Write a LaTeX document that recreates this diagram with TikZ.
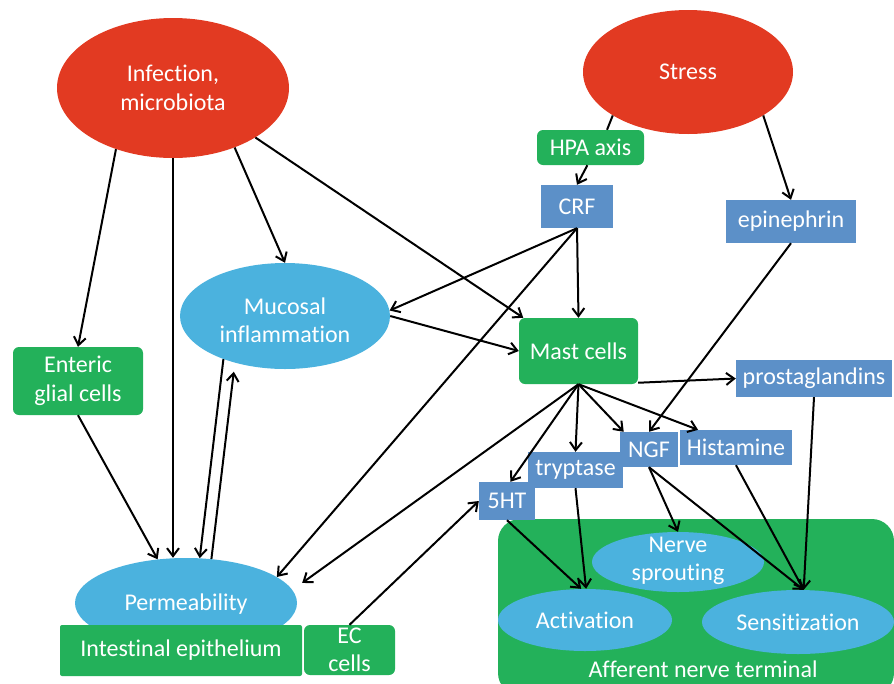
\documentclass[tikz,border=0pt]{standalone}
\usepackage{fontspec}
\setmainfont{Carlito}[Ligatures={NoCommon}]
\usetikzlibrary{arrows.meta,shapes.geometric,calc}
\definecolor{cred}{RGB}{226,58,34}
\definecolor{cell}{RGB}{75,178,222}
\definecolor{cgreen}{RGB}{35,177,90}
\definecolor{cbox}{RGB}{92,144,200}
\begin{document}
\begin{tikzpicture}[x=1pt,y=-1pt,
 every node/.style={text=white,font=\fontsize{24}{28.5}\selectfont,inner sep=0pt,align=center},
 redell/.style={ellipse,fill=cred},
 blueell/.style={ellipse,fill=cell},
 greenbox/.style={rectangle,rounded corners=6pt,fill=cgreen},
 bluebox/.style={rectangle,fill=cbox},
 arr/.style={draw=black,line width=2pt,-{Straight Barb[length=8pt,width=12pt]}},
 ln/.style={draw=black,line width=2pt}]
\useasboundingbox (0,0) rectangle (894,683);
% afferent nerve terminal
\node[greenbox,rounded corners=22pt,minimum width=396pt,minimum height=176pt] (aff) at (696,607) {};
\node[anchor=base] (afflabel) at (703,677) {Afferent nerve terminal};
% top ellipses
\node[redell,minimum width=232pt,minimum height=140pt] (inf) at (173,88) {Infection,\\microbiota};
\node[redell,minimum width=210pt,minimum height=124pt] (stress) at (688,72) {Stress};
\node[greenbox,minimum width=107pt,minimum height=35pt] (hpa) at (590.5,147.5) {HPA axis};
\node[bluebox,minimum width=72pt,minimum height=43pt] (crf) at (577,206.5) {CRF};
\node[bluebox,minimum width=130pt,minimum height=43pt] (epi) at (791,221.5) {epinephrin};
\node[blueell,minimum width=210pt,minimum height=106pt] (muc) at (285,316) {};
\node (muctext) at (285,320) {Mucosal\\inflammation};
\node[greenbox,minimum width=130pt,minimum height=68pt] (ent) at (78,381) {Enteric\\glial cells};
\node[greenbox,minimum width=119pt,minimum height=66pt] (mast) at (578.5,351) {Mast cells};
\node[bluebox,minimum width=156pt,minimum height=37pt] (pros) at (814,378.5) {prostaglandins};
\node[bluebox,minimum width=95pt,minimum height=36pt] (tryp) at (575.5,470) {tryptase};
\node[bluebox,minimum width=58pt,minimum height=35pt] (ngf) at (649,449.5) {NGF};
\node[bluebox,minimum width=112pt,minimum height=35pt] (hist) at (736,447.5) {Histamine};
\node[bluebox,minimum width=56pt,minimum height=38pt] (sht) at (507,501) {5HT};
\node[blueell,minimum width=172pt,minimum height=60pt] (ns) at (678,562) {};
\node (nstext) at (678,561) {Nerve\\sprouting};
\node[blueell,minimum width=174pt,minimum height=62pt] (act) at (585,620) {Activation};
\node[blueell,minimum width=192pt,minimum height=64pt] (sens) at (798,622) {Sensitization};
\node[blueell,minimum width=222pt,minimum height=90pt] (perm) at (186,603) {};
\node (permtext) at (186,604) {Permeability};
\node[greenbox,rounded corners=2pt,minimum width=242pt,minimum height=51pt] (epith) at (181,650.5) {Intestinal epithelium};
\node[greenbox,minimum width=91pt,minimum height=50pt] (ec) at (349.5,650) {};
\node (ectext) at (349.5,650) {EC\\cells};
% connectors
\draw[ln] (stress.210) -- (hpa.47);
\draw[arr] (inf.227) -- (ent.north);
\draw[arr] (inf.south) -- (perm.north -| inf.south);
\draw[arr] (inf.-44) -- (muc.north);
\draw[arr] (inf.-31) -- (mast.149);
\draw[arr] (hpa.-100) -- (crf.north);
\draw[arr] (stress.-30) -- (epi.north);
\draw[arr] (crf.south) -- (muc.3);
\draw[arr] (crf.south) -- (mast.north);
\draw[arr] (crf.south) -- (perm.16);
\draw[arr] (muc.east) -- (mast.west);
\draw[arr] (muc.215) -- (perm.73);
\draw[arr,shorten >=9pt] (perm.60) -- (muc.223);
\draw[arr] (ent.south) -- (perm.123);
\draw[arr,shorten >=12pt] (mast.south) -- (perm.7);
\draw[arr] (ec.north) -- (sht.west);
\draw[arr] (mast.-28) -- (pros.west);
\draw[arr] (mast.south) -- (sht.80);
\draw[arr] (mast.south) -- (tryp.north);
\draw[arr] (mast.south) -- (ngf.145);
\draw[arr] (mast.south) -- (hist.155);
\draw[arr] (epi.south) -- (ngf.north);
\draw[arr] (sht.south) -- (act.97);
\draw[arr] (tryp.south) -- (act.88);
\draw[arr] (ngf.south) -- (ns.north);
\draw[arr] (ngf.south) -- (sens.80);
\draw[arr] (hist.south) -- (sens.80);
\draw[arr] (pros.south) -- (sens.80);
\end{tikzpicture}
\end{document}
